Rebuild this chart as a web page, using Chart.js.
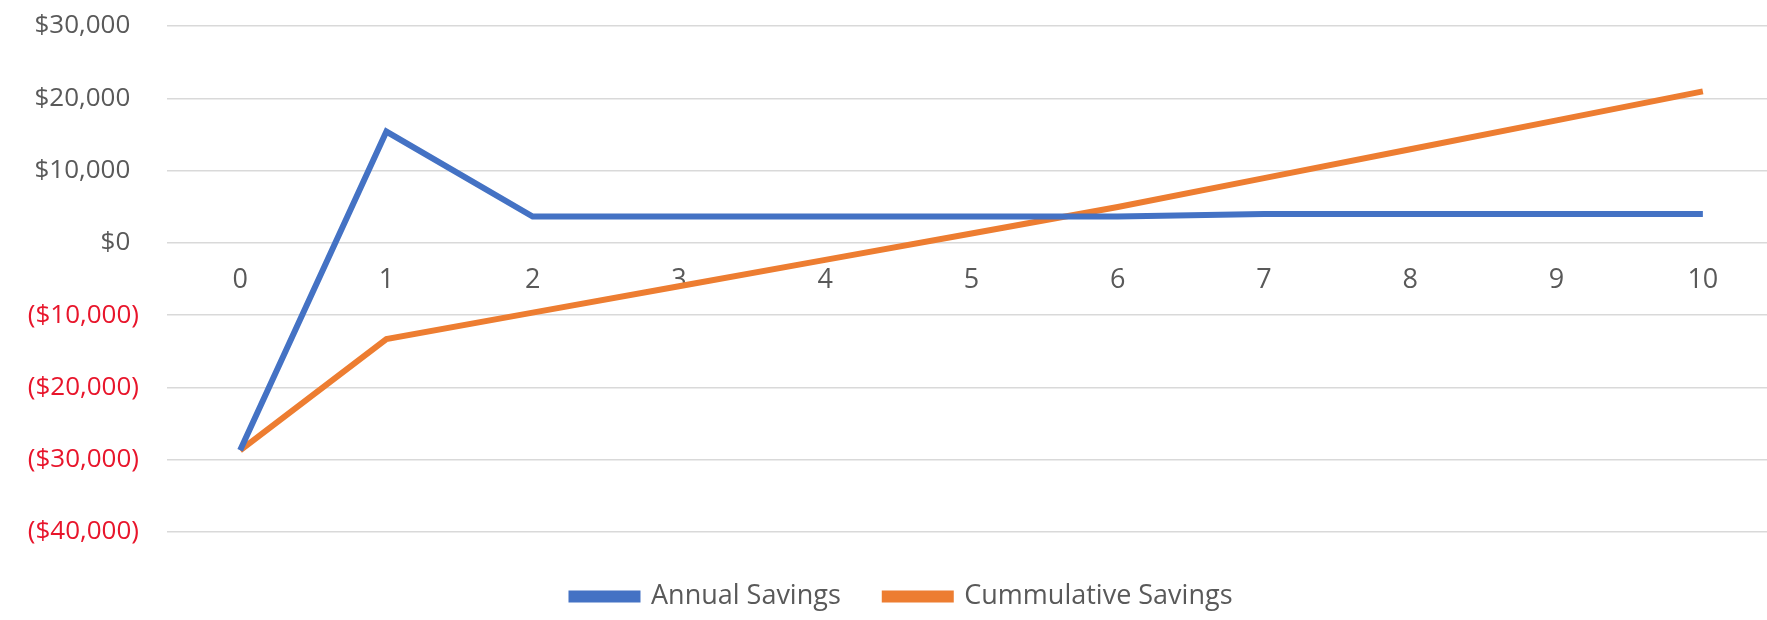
<!DOCTYPE html>
<html>
<head>
<meta charset="utf-8">
<script src="https://cdn.jsdelivr.net/npm/chart.js@4.4.1/dist/chart.umd.min.js"></script>
<style>
  html, body { margin: 0; padding: 0; background: #ffffff; overflow: hidden; }
  #wrap { width: 1776px; height: 620px; }
</style>
</head>
<body>
<div id="wrap"><canvas id="c" width="1776" height="620"></canvas></div>
<script>
const years = ['0', '1', '2', '3', '4', '5', '6', '7', '8', '9', '10'];
const annualSavings = [-28700, 15400, 3650, 3650, 3650, 3650, 3650, 4000, 4000, 4000, 4000];
const cumulativeSavings = [-28700, -13300, -9650, -6000, -2350, 1300, 4950, 8950, 12950, 16950, 20950];
const seriesNames = ['Annual Savings', 'Cummulative Savings'];
const yTicks = [-40000, -30000, -20000, -10000, 0, 10000, 20000, 30000];

const GRAY = '#595959';
const RED = '#E8152B';
const FONT = 'Open Sans';

function money(v) {
  const s = '$' + Math.abs(v).toLocaleString('en-US');
  return v < 0 ? '(' + s + ')' : s + '\u2004';
}

const legendShift = {
  id: 'legendShift',
  afterLayout(chart) {
    if (chart.legend) { chart.legend.left += 14; chart.legend.right += 14; }
  }
};

new Chart(document.getElementById('c'), {
  type: 'line',
  data: {
    labels: years,
    datasets: [
      { label: seriesNames[0], data: annualSavings, borderColor: '#4472C4', backgroundColor: '#4472C4',
        borderWidth: 6, pointRadius: 0, tension: 0 },
      { label: seriesNames[1], data: cumulativeSavings, borderColor: '#ED7D31', backgroundColor: '#ED7D31',
        borderWidth: 6, pointRadius: 0, tension: 0 }
    ]
  },
  plugins: [legendShift],
  options: {
    responsive: false,
    animation: false,
    events: [],
    layout: { padding: { top: 26, left: 0, right: 0, bottom: 0 } },
    plugins: {
      tooltip: { enabled: false },
      legend: {
        position: 'bottom',
        title: { display: true, text: ' ', padding: { top: 1, bottom: 0 }, font: { size: 5 } },
        labels: {
          boxWidth: 66, boxHeight: 6, padding: 44, color: GRAY,
          font: { family: FONT, size: 27 }
        }
      }
    },
    scales: {
      x: {
        position: { y: 0 },
        offset: true,
        grid: { display: false, drawTicks: false },
        border: { display: false },
        ticks: { color: GRAY, padding: 21, font: { family: FONT, size: 27 } }
      },
      y: {
        min: yTicks[0], max: yTicks[yTicks.length - 1],
        afterBuildTicks: (s) => { s.ticks = yTicks.map(v => ({ value: v })); },
        afterFit: (s) => { s.width = 167; },
        grid: { color: '#d9d9d9', lineWidth: 1.5, drawTicks: true, tickLength: 28, tickColor: 'rgba(0,0,0,0)' },
        border: { display: false },
        ticks: {
          padding: 0,
          font: { family: FONT, size: 26 },
          color: (ctx) => (ctx.tick && ctx.tick.value < 0 ? RED : GRAY),
          callback: (v) => money(v)
        }
      }
    }
  }
});
</script>
</body>
</html>
